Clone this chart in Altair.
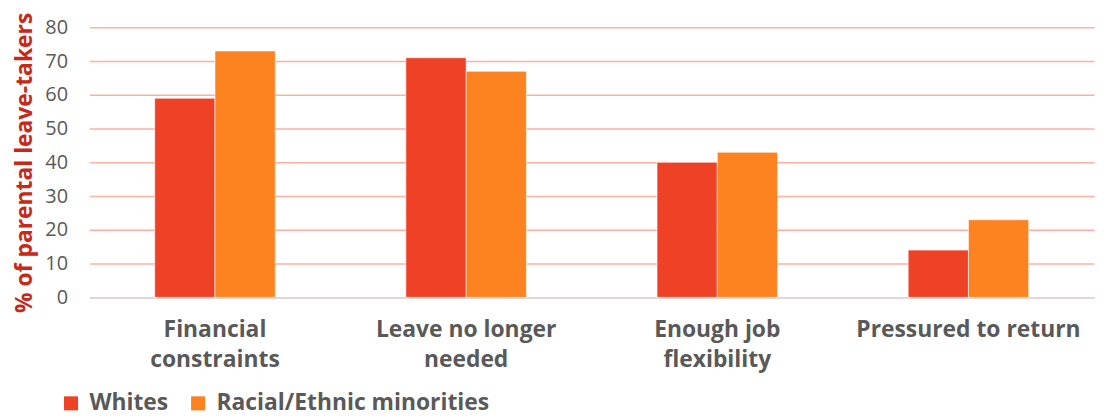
import altair as alt
import pandas as pd

categories = ["Financial|constraints", "Leave no longer|needed", "Enough job|flexibility", "Pressured to return"]
whites = [59, 71, 40, 14]
minorities = [73, 67, 43, 23]
groups = ["Whites", "Racial/Ethnic minorities"]

rows = []
for c, w, m in zip(categories, whites, minorities):
    rows.append({"cat": c, "group": groups[0], "value": w})
    rows.append({"cat": c, "group": groups[1], "value": m})
df = pd.DataFrame(rows)

FONT = "Open Sans"
GRAY = "#595959"

chart = alt.Chart(df).mark_bar(stroke="white", strokeWidth=0.6).encode(
    x=alt.X("cat:N", sort=categories, title=None,
            scale=alt.Scale(paddingInner=0.52, paddingOuter=0.26),
            axis=alt.Axis(labelExpr="split(datum.label, '|')", labelAngle=0,
                          labelFont=FONT, labelFontSize=23, labelFontWeight=700,
                          labelColor=GRAY, labelPadding=21, ticks=False, labelLimit=0,
                          domainColor="#D9D9D9", domainWidth=2, labelLineHeight=31,
                          labelBaseline="top")),
    xOffset=alt.XOffset("group:N", sort=groups),
    y=alt.Y("value:Q", title="% of parental leave-takers",
            scale=alt.Scale(domain=[0, 80]),
            axis=alt.Axis(values=list(range(0, 81, 10)), ticks=False, domain=False,
                          gridColor="#FBB1A3", gridWidth=1.5,
                          labelFont=FONT, labelFontSize=20, labelColor=GRAY,
                          labelPadding=22,
                          titleFont=FONT, titleFontSize=23, titleFontWeight=700,
                          titleColor="#C8281A", titlePadding=8)),
    color=alt.Color("group:N", sort=groups,
                    scale=alt.Scale(domain=groups, range=["#EF4126", "#FD8321"]),
                    legend=alt.Legend(title=None, orient="none", direction="horizontal",
                                      legendX=-30, legendY=367,
                                      symbolType="square", symbolSize=200,
                                      symbolStrokeWidth=0, labelLimit=0,
                                      labelFont=FONT, labelFontSize=23,
                                      labelFontWeight=700, labelColor=GRAY,
                                      columnPadding=18, labelOffset=7)),
).properties(
    width=1012, height=272,
    autosize="none",
    padding={"left": 82, "top": 18, "right": 2, "bottom": 118},
).configure_view(stroke=None)

chart.save("out.html", embed_options={"renderer": "svg", "actions": False})
